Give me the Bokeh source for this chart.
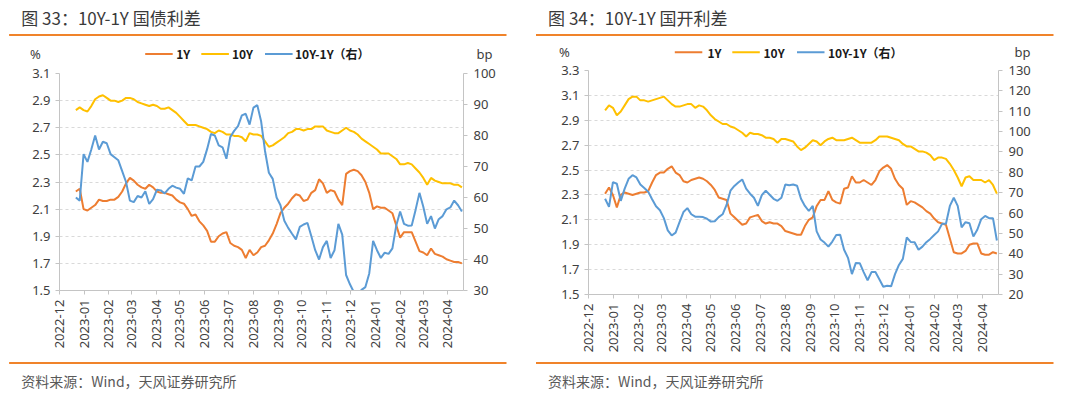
import math
import pandas as pd
from bokeh.plotting import figure
from bokeh.models import (Range1d, LinearAxis, FixedTicker, DatetimeTickFormatter,
                          PrintfTickFormatter, ColumnDataSource)
from bokeh.layouts import row, column
from bokeh.core.properties import value
from bokeh.embed import file_html
from bokeh.resources import INLINE

# ---------------- data ----------------
dates = pd.date_range("2022-12-21 12:00", "2024-04-18 12:00", periods=101)
month_ticks = ["2022-12", "2023-01", "2023-02", "2023-03", "2023-04", "2023-05", "2023-06",
               "2023-07", "2023-08", "2023-09", "2023-10", "2023-11", "2023-12", "2024-01",
               "2024-02", "2024-03", "2024-04"]

titles = ["图 33：10Y-1Y 国债利差", "图 34：10Y-1Y 国开利差"]
source_note = "资料来源：Wind，天风证券研究所"
series_names = ["1Y", "10Y", "10Y-1Y（右）"]
unit_left = "%"
unit_right = "bp"

gov_1y = [2.23, 2.25, 2.10, 2.09, 2.11, 2.13, 2.17, 2.16, 2.16, 2.17,
          2.17, 2.19, 2.23, 2.29, 2.33, 2.31, 2.28, 2.26, 2.25, 2.28,
          2.26, 2.23, 2.22, 2.22, 2.21, 2.20, 2.17, 2.15, 2.14, 2.10,
          2.05, 2.06, 2.01, 1.98, 1.94, 1.86, 1.86, 1.90, 1.92, 1.93,
          1.85, 1.83, 1.82, 1.80, 1.74, 1.80, 1.76, 1.78, 1.82, 1.83,
          1.87, 1.92, 1.99, 2.07, 2.11, 2.14, 2.18, 2.21, 2.20, 2.16,
          2.17, 2.22, 2.24, 2.32, 2.29, 2.22, 2.24, 2.23, 2.17, 2.13,
          2.36, 2.38, 2.39, 2.38, 2.35, 2.30, 2.22, 2.10, 2.12, 2.11,
          2.11, 2.09, 2.07, 1.98, 1.89, 1.93, 1.93, 1.93, 1.86, 1.79,
          1.78, 1.76, 1.81, 1.77, 1.76, 1.75, 1.73, 1.72, 1.71, 1.71, 1.70]
gov_10y = [2.83, 2.85, 2.83, 2.82, 2.86, 2.91, 2.93, 2.94, 2.92, 2.90,
           2.90, 2.89, 2.90, 2.92, 2.92, 2.91, 2.89, 2.88, 2.87, 2.86,
           2.87, 2.86, 2.84, 2.84, 2.85, 2.83, 2.81, 2.78, 2.75, 2.72,
           2.72, 2.72, 2.71, 2.70, 2.69, 2.67, 2.66, 2.68, 2.67, 2.65,
           2.65, 2.64, 2.64, 2.63, 2.60, 2.66, 2.65, 2.65, 2.64, 2.60,
           2.56, 2.57, 2.59, 2.61, 2.63, 2.66, 2.67, 2.69, 2.69, 2.68,
           2.69, 2.69, 2.71, 2.71, 2.71, 2.68, 2.67, 2.66, 2.66, 2.68,
           2.70, 2.68, 2.67, 2.65, 2.62, 2.60, 2.58, 2.56, 2.54, 2.51,
           2.51, 2.51, 2.49, 2.47, 2.43, 2.43, 2.44, 2.43, 2.40, 2.37,
           2.33, 2.28, 2.33, 2.31, 2.30, 2.29, 2.29, 2.29, 2.28, 2.28, 2.26]
gov_spread = [60.0, 59.0, 74.0, 71.5, 75.5, 80.0, 75.5, 78.0, 77.5, 74.0,
              73.0, 72.0, 68.5, 65.0, 59.0, 58.5, 60.5, 60.0, 62.0, 57.9,
              59.5, 62.5, 62.3, 61.3, 62.8, 63.8, 63.2, 62.8, 61.2, 66.2,
              65.5, 70.0, 70.0, 71.5, 75.6, 80.5, 80.0, 76.8, 76.2, 72.5,
              79.5, 81.5, 83.0, 86.5, 87.0, 83.5, 89.0, 89.8, 84.5, 75.0,
              68.0, 66.0, 60.0, 57.5, 52.5, 50.2, 48.3, 46.5, 50.5, 51.3,
              51.8, 47.5, 43.0, 40.0, 44.0, 46.0, 40.5, 43.0, 51.5, 48.0,
              35.0, 32.0, 29.5, 29.0, 30.2, 31.1, 35.5, 46.0, 43.0, 40.5,
              42.2, 41.8, 43.6, 51.0, 55.5, 51.5, 50.9, 51.0, 56.0, 61.5,
              57.0, 51.5, 54.0, 50.0, 53.0, 54.0, 56.2, 56.8, 59.0, 57.5, 55.5]

cdb_1y = [2.31, 2.36, 2.30, 2.20, 2.30, 2.32, 2.31, 2.30, 2.31, 2.32,
          2.32, 2.33, 2.40, 2.46, 2.48, 2.48, 2.51, 2.53, 2.48, 2.46,
          2.41, 2.40, 2.42, 2.43, 2.44, 2.43, 2.41, 2.38, 2.34, 2.28,
          2.27, 2.26, 2.15, 2.12, 2.09, 2.06, 2.07, 2.12, 2.13, 2.14,
          2.09, 2.07, 2.08, 2.07, 2.07, 2.05, 2.01, 2.00, 1.99, 1.98,
          1.98, 2.05, 2.10, 2.12, 2.21, 2.26, 2.26, 2.33, 2.26, 2.24,
          2.23, 2.35, 2.36, 2.45, 2.40, 2.40, 2.42, 2.40, 2.38, 2.42,
          2.49, 2.52, 2.54, 2.51, 2.43, 2.38, 2.35, 2.22, 2.25, 2.24,
          2.22, 2.20, 2.17, 2.15, 2.11, 2.08, 2.07, 2.06, 1.95, 1.84,
          1.83, 1.83, 1.85, 1.90, 1.91, 1.91, 1.83, 1.82, 1.82, 1.84, 1.83]
cdb_10y = [2.98, 3.02, 3.00, 2.94, 2.97, 3.02, 3.07, 3.09, 3.09, 3.06,
           3.06, 3.05, 3.06, 3.07, 3.08, 3.09, 3.06, 3.03, 3.01, 3.01,
           3.02, 3.03, 3.03, 3.00, 3.02, 3.01, 2.98, 2.94, 2.91, 2.89,
           2.87, 2.87, 2.85, 2.84, 2.82, 2.80, 2.77, 2.80, 2.79, 2.79,
           2.78, 2.76, 2.76, 2.75, 2.72, 2.75, 2.75, 2.74, 2.73, 2.69,
           2.66, 2.68, 2.71, 2.74, 2.73, 2.70, 2.73, 2.75, 2.76, 2.74,
           2.74, 2.74, 2.75, 2.76, 2.74, 2.72, 2.72, 2.72, 2.72, 2.74,
           2.77, 2.77, 2.77, 2.76, 2.75, 2.74, 2.71, 2.69, 2.69, 2.67,
           2.65, 2.65, 2.64, 2.62, 2.58, 2.60, 2.60, 2.59, 2.55, 2.50,
           2.44, 2.37, 2.44, 2.45, 2.42, 2.42, 2.42, 2.40, 2.42, 2.38, 2.31]
cdb_spread = [67.0, 63.0, 75.2, 74.4, 66.0, 72.0, 76.8, 78.6, 77.5, 74.0,
              72.3, 70.5, 66.8, 63.3, 61.4, 57.5, 51.5, 49.0, 50.4, 55.5,
              60.5, 62.4, 59.4, 58.2, 58.2, 58.0, 57.2, 55.8, 56.0, 58.0,
              59.4, 64.0, 71.0, 73.3, 75.0, 76.5, 72.0, 69.5, 67.5, 63.5,
              68.8, 71.0, 69.0, 67.0, 66.0, 67.5, 74.0, 73.7, 74.0, 73.4,
              67.0, 63.5, 61.0, 63.5, 51.0, 47.0, 45.5, 43.5, 46.0, 49.2,
              49.4, 42.0, 38.0, 30.0, 35.5, 35.4, 31.0, 27.0, 31.0, 31.0,
              27.5, 23.8, 24.3, 24.0, 30.0, 34.5, 37.5, 48.0, 45.8, 45.7,
              42.0, 43.5, 45.7, 47.3, 49.2, 51.0, 54.7, 54.7, 63.5, 67.5,
              63.5, 53.0, 55.5, 55.0, 48.5, 51.8, 57.0, 58.6, 57.5, 57.5, 46.5]

left_ticks_a = [1.5, 1.7, 1.9, 2.1, 2.3, 2.5, 2.7, 2.9, 3.1]
right_ticks_a = [30, 40, 50, 60, 70, 80, 90, 100]
left_ticks_b = [1.5, 1.7, 1.9, 2.1, 2.3, 2.5, 2.7, 2.9, 3.1, 3.3]
right_ticks_b = [20, 30, 40, 50, 60, 70, 80, 90, 100, 110, 120, 130]

# ---------------- style ----------------
ORANGE = "#ED7D31"
YELLOW = "#FFC000"
BLUE = "#5B9BD5"
COLORS = [ORANGE, YELLOW, BLUE]
RULE = "#F0832A"
CJK = "Noto Sans CJK SC"
LAT = "Noto Sans"
AXIS = "#c4c4c4"
TXT = "#404040"

X_START = pd.Timestamp("2022-12-01")
X_END = pd.Timestamp("2024-04-20 12:00")


def ms(ts):
    return float(pd.Timestamp(ts).value // 10**6)


def canvas_fig(width, height):
    f = figure(width=width, height=height, x_range=Range1d(0, width), y_range=Range1d(height, 0),
               output_backend="svg", toolbar_location=None, tools="", min_border=0,
               x_axis_type=None, y_axis_type=None, outline_line_color=None, frame_align=False)
    f.xgrid.visible = False
    f.ygrid.visible = False
    return f


def header(width, title, title_x, rule_x0, rule_x1, leg_segs, leg_text_x, leg_y, pct_x, bp_x):
    h = canvas_fig(width, 62)
    h.text(x=[title_x], y=[17.2], text=[title], text_font=value(CJK), text_font_size="17px",
           text_color="#3a3a3a", text_align="left", text_baseline="middle")
    h.segment(x0=[rule_x0], y0=[34.4], x1=[rule_x1], y1=[34.4], line_color=RULE, line_width=2)
    # legend
    for (sx0, sx1), tx, name, col in zip(leg_segs, leg_text_x, series_names, COLORS):
        h.segment(x0=[sx0], y0=[leg_y], x1=[sx1], y1=[leg_y], line_color=col, line_width=2)
        h.text(x=[tx], y=[leg_y], text=[name], text_font=value(CJK), text_font_size="12px",
               text_font_style="bold", text_color="#1a1a1a", text_align="left",
               text_baseline="middle")
    h.text(x=[pct_x], y=[leg_y], text=[unit_left], text_font=value(LAT), text_font_size="13px",
           text_color=TXT, text_align="center", text_baseline="middle")
    h.text(x=[bp_x], y=[leg_y], text=[unit_right], text_font=value(LAT), text_font_size="13px",
           text_color=TXT, text_align="center", text_baseline="middle")
    return h


def footer(width, text_x, rule_x0, rule_x1):
    f = canvas_fig(width, 35)
    f.segment(x0=[rule_x0], y0=[4.6], x1=[rule_x1], y1=[4.6], line_color=RULE, line_width=2)
    f.text(x=[text_x], y=[22.5], text=[source_note], text_font=value(CJK), text_font_size="14px",
           text_color="#595959", text_align="left", text_baseline="middle")
    return f


def style_axis(ax, standoff):
    ax.axis_line_color = AXIS
    ax.major_tick_line_color = AXIS
    ax.major_tick_out = 4
    ax.major_tick_in = 0
    ax.minor_tick_line_color = None
    ax.major_label_text_font = LAT
    ax.major_label_text_font_size = "13px"
    ax.major_label_text_color = TXT
    ax.major_label_standoff = standoff


def panel(width, height, bl, br, bt, bb, yr, rr, lticks, rticks, v1, v10, vsp):
    src = ColumnDataSource(dict(date=dates, y1=v1, y10=v10, sp=vsp))
    p = figure(width=width, height=height, x_axis_type="datetime",
               x_range=Range1d(X_START, X_END), y_range=Range1d(*yr),
               output_backend="svg", toolbar_location=None, tools="",
               min_border_left=bl, min_border_right=br, min_border_top=bt, min_border_bottom=bb,
               outline_line_color=None, frame_align=False)
    p.extra_y_ranges = {"right": Range1d(*rr)}

    p.line("date", "y1", source=src, line_color=ORANGE, line_width=2)
    p.line("date", "y10", source=src, line_color=YELLOW, line_width=2)
    p.line("date", "sp", source=src, line_color=BLUE, line_width=2, y_range_name="right")

    p.xaxis.ticker = FixedTicker(ticks=[ms(m + "-01") for m in month_ticks])
    fmt = "%Y-%m"
    p.xaxis.formatter = DatetimeTickFormatter(days=fmt, months=fmt, years=fmt, hours=fmt,
                                              hourmin=fmt, minutes=fmt, minsec=fmt, seconds=fmt,
                                              milliseconds=fmt, microseconds=fmt)
    p.xaxis.major_label_orientation = math.pi / 2
    style_axis(p.xaxis[0], 5)

    yt = FixedTicker(ticks=lticks)
    p.yaxis.ticker = yt
    p.yaxis.formatter = PrintfTickFormatter(format="%.1f")
    style_axis(p.yaxis[0], 5)

    ra = LinearAxis(y_range_name="right", ticker=FixedTicker(ticks=rticks))
    style_axis(ra, 6)
    p.add_layout(ra, "right")

    p.xgrid.visible = False
    p.ygrid.ticker = yt
    p.ygrid.grid_line_color = "#d9d9d9"
    p.ygrid.grid_line_dash = "3 3"
    p.ygrid.grid_line_width = 1
    return p


# left panel (page x 0..518)
h1 = header(518, titles[0], 20.7, 8.6, 506,
            [(144.7, 172.2), (200.8, 228.4), (264.5, 292.1)], [175.7, 231.4, 294.5], 53.4,
            35, 484)
p1 = panel(518, 296, 59, 55, 11, 68, (1.5, 3.1), (30, 100), left_ticks_a, right_ticks_a,
           gov_1y, gov_10y, gov_spread)
f1 = footer(518, 20.7, 8.6, 506)

# right panel (page x 518..1080)
h2 = header(562, titles[1], 29.6, 17.5, 535,
            [(156.3, 183.8), (213.8, 241.3), (278.5, 306.0)], [189.0, 245.0, 309.5], 51.7,
            46, 504)
p2 = panel(562, 296, 70, 82, 8, 64, (1.5, 3.3), (20, 130), left_ticks_b, right_ticks_b,
           cdb_1y, cdb_10y, cdb_spread)
f2 = footer(562, 29.6, 17.5, 535)

layout = row(column(h1, p1, f1, spacing=0), column(h2, p2, f2, spacing=0), spacing=0)

open("out.html", "w").write(file_html(layout, INLINE))
